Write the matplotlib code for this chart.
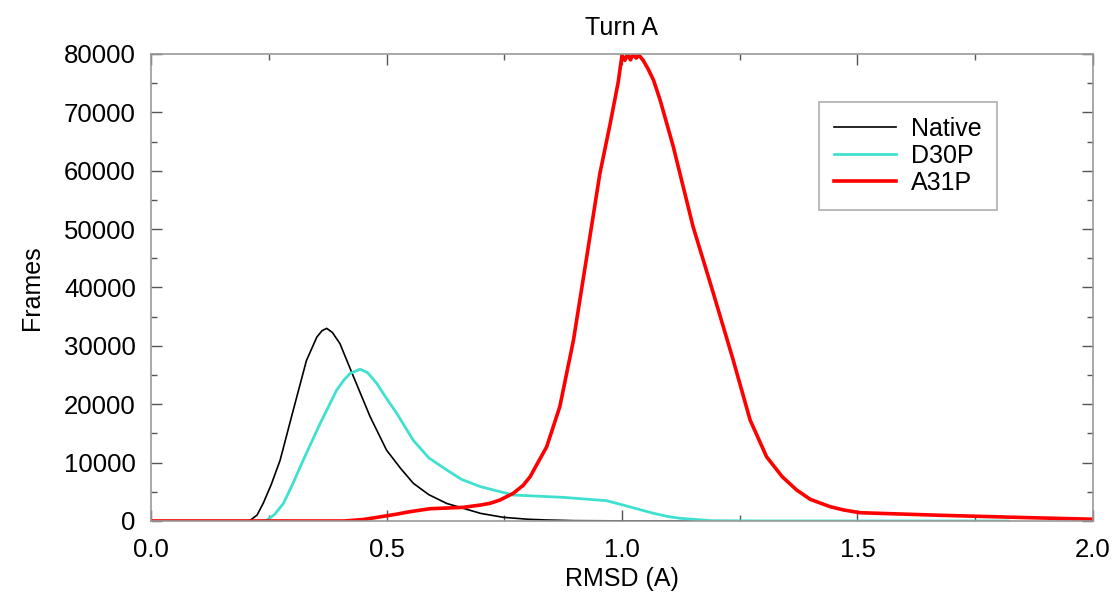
import matplotlib
matplotlib.use("Agg")
import matplotlib.pyplot as plt
from matplotlib.ticker import MultipleLocator

# RMSD histograms
native_x = [0.0, 0.20, 0.21, 0.225, 0.238, 0.255, 0.274, 0.302, 0.33, 0.352, 0.363, 0.373,
            0.385, 0.401, 0.43, 0.465, 0.50, 0.53, 0.557, 0.59, 0.628, 0.70, 0.748, 0.80,
            0.84, 0.90, 1.0, 1.8]
native_y = [0, 0, 100, 1000, 3000, 6200, 10400, 19000, 27500, 31500, 32600, 33000,
            32300, 30400, 24700, 17900, 12150, 9000, 6450, 4500, 3000, 1300, 630, 300,
            170, 60, 20, 0]

d30p_x = [0.0, 0.23, 0.245, 0.262, 0.281, 0.30, 0.323, 0.359, 0.394, 0.41, 0.423, 0.444,
          0.46, 0.479, 0.50, 0.522, 0.557, 0.59, 0.628, 0.66, 0.70, 0.769, 0.875, 0.967,
          1.01, 1.04, 1.067, 1.095, 1.123, 1.19, 1.3, 1.82]
d30p_y = [0, 0, 100, 1100, 3000, 6200, 10400, 16700, 22400, 24200, 25300, 26000,
          25400, 23600, 21000, 18400, 13800, 10800, 8730, 7100, 5870, 4450, 4050, 3480,
          2570, 1900, 1320, 800, 460, 50, 10, 0]

a31p_x = [0.0, 0.41, 0.45, 0.486, 0.52, 0.55, 0.592, 0.663, 0.70, 0.72, 0.741, 0.769, 0.79,
          0.805, 0.82, 0.84, 0.868, 0.897, 0.925, 0.953, 0.975, 0.992, 1.0, 1.006, 1.012,
          1.018, 1.024, 1.03, 1.036, 1.045, 1.055, 1.067, 1.081, 1.109, 1.151, 1.194,
          1.236, 1.272, 1.307, 1.34, 1.371, 1.40, 1.442, 1.47, 1.505, 1.675, 1.85, 2.0]
a31p_y = [0, 0, 250, 700, 1150, 1600, 2100, 2340, 2740, 3030, 3600, 4740, 6100,
          7590, 9800, 12700, 19600, 31000, 45200, 59500, 68100, 75200, 79800, 78900, 80000,
          79000, 80000, 79300, 79800, 78900, 77500, 75500, 72100, 64100, 50400, 39000,
          27600, 17300, 11000, 7600, 5300, 3700, 2450, 1900, 1420, 980, 600, 300]

labels = ["Native", "D30P", "A31P"]
colors = ["black", "#40E0D0", "red"]
widths = [1.2, 2.0, 2.6]

plt.rcParams["font.family"] = ["Liberation Sans", "DejaVu Sans"]

fig = plt.figure(figsize=(11.18, 5.94), dpi=100)
ax = fig.add_axes([0.1351, 0.1229, 0.8425, 0.7862])

for xs, ys, lab, c, w in zip([native_x, d30p_x, a31p_x], [native_y, d30p_y, a31p_y],
                             labels, colors, widths):
    ax.plot(xs, ys, color=c, lw=w, label=lab)

ax.set_xlim(0, 2.0)
ax.set_ylim(0, 80000)
ax.xaxis.set_major_locator(MultipleLocator(0.5))
ax.xaxis.set_minor_locator(MultipleLocator(0.25))
ax.yaxis.set_major_locator(MultipleLocator(10000))
ax.yaxis.set_minor_locator(MultipleLocator(5000))
ax.xaxis.set_major_formatter(lambda v, p: f"{v:.1f}")
ax.tick_params(which="both", direction="in", top=True, right=True,
               color="#555555", labelsize=18.5)
ax.tick_params(axis="y", pad=11)
ax.tick_params(axis="x", pad=12)
ax.tick_params(which="major", length=8, width=1)
ax.tick_params(which="minor", length=4, width=1)
for s in ax.spines.values():
    s.set_color("#999999")
    s.set_linewidth(1.2)

ax.set_title("Turn A", fontsize=18, pad=14)
ax.set_xlabel("RMSD (A)", fontsize=18, labelpad=4)
ax.set_ylabel("Frames", fontsize=18, labelpad=14)

leg = ax.legend(loc="upper left", bbox_to_anchor=(0.709, 0.897), fontsize=18,
                frameon=True, fancybox=False, handlelength=2.5, borderpad=0.6,
                labelspacing=0.12, handletextpad=0.6, borderaxespad=0)
leg.get_frame().set_edgecolor("#999999")
leg.get_frame().set_linewidth(1.2)

fig.savefig("out.png", dpi=100)
